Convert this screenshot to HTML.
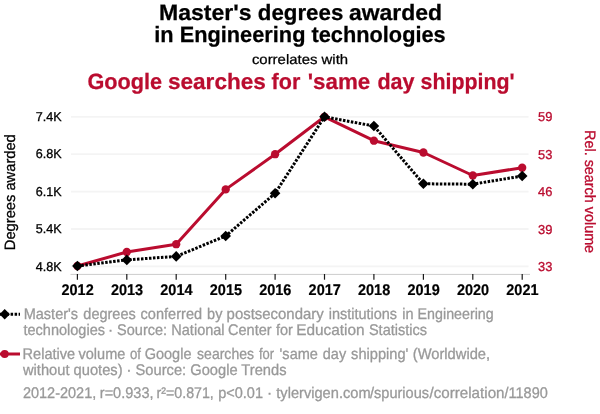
<!DOCTYPE html>
<html><head><meta charset="utf-8">
<style>
html,body{margin:0;padding:0;background:#fff;}
svg{display:block;text-rendering:geometricPrecision;will-change:transform;-webkit-font-smoothing:antialiased;font-family:"Liberation Sans",sans-serif;}
</style></head><body>
<svg width="600" height="414" viewBox="0 0 600 414">
<rect width="600" height="414" fill="#fff"/>
<!-- titles -->
<g text-anchor="middle" font-weight="bold" font-size="22.2" fill="#000" stroke="#000" stroke-width="0.25">
<text y="19.5" text-anchor="start"><tspan x="159.0" textLength="92.6" lengthAdjust="spacingAndGlyphs">Master's</tspan> <tspan x="257.8" textLength="85.5" lengthAdjust="spacingAndGlyphs">degrees</tspan> <tspan x="348.9" textLength="93.2" lengthAdjust="spacingAndGlyphs">awarded</tspan></text>
<text x="300" y="41.8" textLength="291.4" lengthAdjust="spacingAndGlyphs">in Engineering technologies</text>
</g>
<text x="300" y="63.6" text-anchor="middle" font-size="13.7" fill="#000" stroke="#000" stroke-width="0.25" textLength="96.2" lengthAdjust="spacingAndGlyphs">correlates with</text>
<text y="88.6" text-anchor="start" font-weight="bold" font-size="22.2" fill="#ba0c2f" stroke="#ba0c2f" stroke-width="0.25"><tspan x="87.4" textLength="74.6" lengthAdjust="spacingAndGlyphs">Google</tspan> <tspan x="167.9" textLength="98.0" lengthAdjust="spacingAndGlyphs">searches</tspan> <tspan x="271.6" textLength="28.7" lengthAdjust="spacingAndGlyphs">for</tspan> <tspan x="307.8" textLength="62.5" lengthAdjust="spacingAndGlyphs">'same</tspan> <tspan x="377.4" textLength="37.1" lengthAdjust="spacingAndGlyphs">day</tspan> <tspan x="420.5" textLength="94.2" lengthAdjust="spacingAndGlyphs">shipping'</tspan></text>
<!-- grid -->
<g stroke="#f4f4f4" stroke-width="1.8">
<line x1="71" x2="528.5" y1="116.8" y2="116.8"/>
<line x1="71" x2="528.5" y1="154.2" y2="154.2"/>
<line x1="71" x2="528.5" y1="191.6" y2="191.6"/>
<line x1="71" x2="528.5" y1="229.0" y2="229.0"/>
<line x1="71" x2="528.5" y1="266.4" y2="266.4"/>
</g>
<line x1="70.5" x2="530" y1="274.4" y2="274.4" stroke="#ccc" stroke-width="1"/>
<g stroke="#1a1a1a" stroke-width="1.2">
<line x1="77.4" x2="77.4" y1="274" y2="279.7"/>
<line x1="126.8" x2="126.8" y1="274" y2="279.7"/>
<line x1="176.2" x2="176.2" y1="274" y2="279.7"/>
<line x1="225.7" x2="225.7" y1="274" y2="279.7"/>
<line x1="275.1" x2="275.1" y1="274" y2="279.7"/>
<line x1="324.5" x2="324.5" y1="274" y2="279.7"/>
<line x1="373.9" x2="373.9" y1="274" y2="279.7"/>
<line x1="423.4" x2="423.4" y1="274" y2="279.7"/>
<line x1="472.8" x2="472.8" y1="274" y2="279.7"/>
<line x1="522.2" x2="522.2" y1="274" y2="279.7"/>
</g>
<!-- y left labels -->
<g font-size="12.9" fill="#000" stroke="#000" stroke-width="0.3" text-anchor="end">
<text x="61.6" y="121" textLength="25.9" lengthAdjust="spacingAndGlyphs">7.4K</text>
<text x="61.6" y="158.4" textLength="25.9" lengthAdjust="spacingAndGlyphs">6.8K</text>
<text x="61.6" y="195.8" textLength="25.9" lengthAdjust="spacingAndGlyphs">6.1K</text>
<text x="61.6" y="233.2" textLength="25.9" lengthAdjust="spacingAndGlyphs">5.4K</text>
<text x="61.6" y="270.6" textLength="25.9" lengthAdjust="spacingAndGlyphs">4.8K</text>
</g>
<g font-size="12.9" fill="#ba0c2f" stroke="#ba0c2f" stroke-width="0.3" text-anchor="start">
<text x="538" y="121">59</text>
<text x="538" y="159">53</text>
<text x="538" y="196.3">46</text>
<text x="538" y="234">39</text>
<text x="538" y="271">33</text>
</g>
<!-- x labels -->
<g font-size="15.5" font-weight="bold" fill="#000" stroke="#000" stroke-width="0.2" text-anchor="middle">
<text x="77.6" y="295.1" textLength="32.2" lengthAdjust="spacingAndGlyphs">2012</text>
<text x="127.0" y="295.1" textLength="32.2" lengthAdjust="spacingAndGlyphs">2013</text>
<text x="176.4" y="295.1" textLength="32.2" lengthAdjust="spacingAndGlyphs">2014</text>
<text x="225.9" y="295.1" textLength="32.2" lengthAdjust="spacingAndGlyphs">2015</text>
<text x="275.3" y="295.1" textLength="32.2" lengthAdjust="spacingAndGlyphs">2016</text>
<text x="324.7" y="295.1" textLength="32.2" lengthAdjust="spacingAndGlyphs">2017</text>
<text x="374.1" y="295.1" textLength="32.2" lengthAdjust="spacingAndGlyphs">2018</text>
<text x="423.6" y="295.1" textLength="32.2" lengthAdjust="spacingAndGlyphs">2019</text>
<text x="473.0" y="295.1" textLength="32.2" lengthAdjust="spacingAndGlyphs">2020</text>
<text x="522.4" y="295.1" textLength="32.2" lengthAdjust="spacingAndGlyphs">2021</text>
</g>
<!-- axis titles -->
<text transform="translate(14.7,192.2) rotate(-90)" text-anchor="middle" font-size="15" fill="#000" stroke="#000" stroke-width="0.3" textLength="116" lengthAdjust="spacingAndGlyphs">Degrees awarded</text>
<text transform="translate(584.8,191.6) rotate(90)" text-anchor="middle" font-size="15" fill="#ba0c2f" stroke="#ba0c2f" stroke-width="0.3" textLength="123" lengthAdjust="spacingAndGlyphs">Rel. search volume</text>
<!-- red line -->
<polyline fill="none" stroke="#ba0c2f" stroke-width="3" stroke-linejoin="round" points="77.4,266.0 126.8,252.0 176.2,244.2 225.7,189.4 275.1,154.2 324.5,116.8 373.9,140.7 423.4,152.5 472.8,175.5 522.2,167.7"/>
<g fill="#ba0c2f">
<circle cx="77.4" cy="266.0" r="4.15"/><circle cx="126.8" cy="252.0" r="4.15"/><circle cx="176.2" cy="244.2" r="4.15"/><circle cx="225.7" cy="189.4" r="4.15"/><circle cx="275.1" cy="154.2" r="4.15"/><circle cx="324.5" cy="116.8" r="4.15"/><circle cx="373.9" cy="140.7" r="4.15"/><circle cx="423.4" cy="152.5" r="4.15"/><circle cx="472.8" cy="175.5" r="4.15"/><circle cx="522.2" cy="167.7" r="4.15"/>
</g>
<!-- black line -->
<polyline fill="none" stroke="#000" stroke-width="3" stroke-dasharray="2.5,1.5" points="77.4,266.0 126.8,259.9 176.2,256.4 225.7,236.0 275.1,193.3 324.5,116.8 373.9,126.0 423.4,183.8 472.8,184.2 522.2,176.0"/>
<g fill="#000">
<path d="M77.4,260.7l5.3,5.3l-5.3,5.3l-5.3,-5.3z"/>
<path d="M126.8,254.6l5.3,5.3l-5.3,5.3l-5.3,-5.3z"/>
<path d="M176.2,251.1l5.3,5.3l-5.3,5.3l-5.3,-5.3z"/>
<path d="M225.7,230.7l5.3,5.3l-5.3,5.3l-5.3,-5.3z"/>
<path d="M275.1,188.0l5.3,5.3l-5.3,5.3l-5.3,-5.3z"/>
<path d="M324.5,111.5l5.3,5.3l-5.3,5.3l-5.3,-5.3z"/>
<path d="M373.9,120.7l5.3,5.3l-5.3,5.3l-5.3,-5.3z"/>
<path d="M423.4,178.5l5.3,5.3l-5.3,5.3l-5.3,-5.3z"/>
<path d="M472.8,178.9l5.3,5.3l-5.3,5.3l-5.3,-5.3z"/>
<path d="M522.2,170.7l5.3,5.3l-5.3,5.3l-5.3,-5.3z"/>
</g>
<!-- legend -->
<line x1="0" x2="20" y1="314.3" y2="314.3" stroke="#000" stroke-width="3" stroke-dasharray="2.5,1.5" stroke-dashoffset="1.4"/>
<path d="M4.7,309.1l5.2,5.2l-5.2,5.2l-5.2,-5.2z" fill="#000"/>
<g font-size="15.4" fill="#999" stroke="#999" stroke-width="0.3">
<text y="319.2"><tspan x="23.7" textLength="54.4" lengthAdjust="spacingAndGlyphs">Master's</tspan> <tspan x="83.3" textLength="52.5" lengthAdjust="spacingAndGlyphs">degrees</tspan> <tspan x="140.6" textLength="61.5" lengthAdjust="spacingAndGlyphs">conferred</tspan> <tspan x="207.1" textLength="15.3" lengthAdjust="spacingAndGlyphs">by</tspan> <tspan x="226.6" textLength="97.1" lengthAdjust="spacingAndGlyphs">postsecondary</tspan> <tspan x="328.7" textLength="68.4" lengthAdjust="spacingAndGlyphs">institutions</tspan> <tspan x="402.2" textLength="11.3" lengthAdjust="spacingAndGlyphs">in</tspan> <tspan x="417.6" textLength="76.1" lengthAdjust="spacingAndGlyphs">Engineering</tspan></text>
<text y="335"><tspan x="23.5" textLength="81.5" lengthAdjust="spacingAndGlyphs">technologies</tspan> <tspan x="108.1">·</tspan> <tspan x="117.1" textLength="50.0" lengthAdjust="spacingAndGlyphs">Source:</tspan> <tspan x="171.3" textLength="53.3" lengthAdjust="spacingAndGlyphs">National</tspan> <tspan x="228.0" textLength="43.6" lengthAdjust="spacingAndGlyphs">Center</tspan> <tspan x="275.9" textLength="16.9" lengthAdjust="spacingAndGlyphs">for</tspan> <tspan x="296.2" textLength="68.5" lengthAdjust="spacingAndGlyphs">Education</tspan> <tspan x="368.9" textLength="58.2" lengthAdjust="spacingAndGlyphs">Statistics</tspan></text>
<text y="358.9"><tspan x="22.6" textLength="52.5" lengthAdjust="spacingAndGlyphs">Relative</tspan> <tspan x="78.5" textLength="46.8" lengthAdjust="spacingAndGlyphs">volume</tspan> <tspan x="130.0" textLength="11.0" lengthAdjust="spacingAndGlyphs">of</tspan> <tspan x="144.7" textLength="46.8" lengthAdjust="spacingAndGlyphs">Google</tspan> <tspan x="197.1" textLength="56.9" lengthAdjust="spacingAndGlyphs">searches</tspan> <tspan x="259.0" textLength="15.1" lengthAdjust="spacingAndGlyphs">for</tspan> <tspan x="279.6" textLength="38.3" lengthAdjust="spacingAndGlyphs">'same</tspan> <tspan x="322.8" textLength="23.4" lengthAdjust="spacingAndGlyphs">day</tspan> <tspan x="351.1" textLength="57.3" lengthAdjust="spacingAndGlyphs">shipping'</tspan> <tspan x="412.8" textLength="77.3" lengthAdjust="spacingAndGlyphs">(Worldwide,</tspan></text>
<text x="23" y="374.9" textLength="263.5" lengthAdjust="spacingAndGlyphs">without quotes) · Source: Google Trends</text>
<text y="397.7"><tspan x="22.9" textLength="73.4" lengthAdjust="spacingAndGlyphs">2012-2021,</tspan> <tspan x="99.8" textLength="53.7" lengthAdjust="spacingAndGlyphs">r=0.933,</tspan> <tspan x="156.5" textLength="57.3" lengthAdjust="spacingAndGlyphs">r²=0.871,</tspan> <tspan x="218.2" textLength="44.8" lengthAdjust="spacingAndGlyphs">p&lt;0.01</tspan> <tspan x="267.1">·</tspan> <tspan x="276.3" textLength="94.3" lengthAdjust="spacingAndGlyphs">tylervigen.com</tspan><tspan x="370.0" textLength="59.0" lengthAdjust="spacingAndGlyphs">/spurious</tspan><tspan x="429.5" textLength="75.0" lengthAdjust="spacingAndGlyphs">/correlation</tspan><tspan x="504.5" textLength="43.3" lengthAdjust="spacingAndGlyphs">/11890</tspan></text>
</g>
<line x1="0" x2="20" y1="354" y2="354" stroke="#ba0c2f" stroke-width="3"/>
<circle cx="4.7" cy="354" r="4" fill="#ba0c2f"/>
</svg>
</body></html>
